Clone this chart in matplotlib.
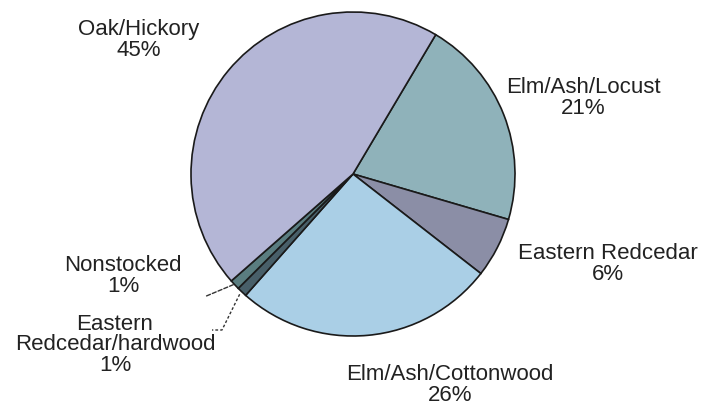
import numpy as np
import matplotlib
matplotlib.use('Agg')
import matplotlib.pyplot as plt

plt.rcParams['font.family'] = ['Liberation Sans', 'DejaVu Sans']

names = ['Elm/Ash/Locust', 'Eastern Redcedar', 'Elm/Ash/Cottonwood',
         'Eastern\nRedcedar/hardwood', 'Nonstocked', 'Oak/Hickory']
shares = [21, 6, 26, 1, 1, 45]
colors = ['#8fb2ba', '#8b8ea6', '#aacfe6', '#485f69', '#5a7d80', '#b4b6d6']
# label centres in pixels (x from left, y from top)
label_pos = [(583, 98), (608, 264), (450, 385), (115, 345), (123, 276), (139, 40)]

W, H = 702, 409
fig = plt.figure(figsize=(W / 100, H / 100), dpi=100)
cx, cy, r = 353, 174, 162
ax = fig.add_axes([(cx - r) / W, (H - cy - r) / H, 2 * r / W, 2 * r / H])

wedges, _ = ax.pie(shares, colors=colors, startangle=59.3, counterclock=False,
                   radius=1, wedgeprops=dict(edgecolor='#1a1a1a', linewidth=1.2))
ax.set_xlim(-1, 1)
ax.set_ylim(-1, 1)
ax.axis('off')

for name, s, (px, py) in zip(names, shares, label_pos):
    fig.text(px / W, 1 - py / H, f'{name}\n{s}%', ha='center', va='center',
             fontsize=16, color='#222222', linespacing=0.98)

# leader lines for the two thin slivers
def edge_point(w):
    a = np.deg2rad((w.theta1 + w.theta2) / 2)
    return np.cos(a), np.sin(a)

def to_ax(px, py):
    return (px - cx) / r, (cy - py) / r

nx, ny = edge_point(wedges[4])
ax.annotate('', xy=(nx * 0.99, ny * 0.99), xytext=to_ax(204, 297),
            arrowprops=dict(arrowstyle='-', color='#333333', lw=1, linestyle=(0, (3, 1.5))),
            annotation_clip=False)
hx, hy = edge_point(wedges[3])
p1 = to_ax(222, 330)
p2 = to_ax(212, 330)
ax.plot([hx * 1.02, p1[0], p2[0]], [hy * 1.02, p1[1], p2[1]], color='#333333',
        lw=1, linestyle=(0, (2, 1.5)), clip_on=False)

fig.savefig('out.png', dpi=100)
